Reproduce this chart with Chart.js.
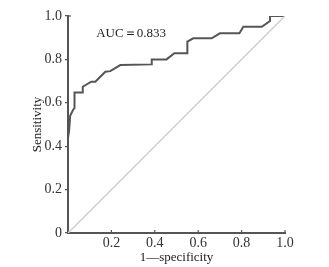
<!DOCTYPE html>
<html>
<head>
<meta charset="utf-8">
<script src="https://cdn.jsdelivr.net/npm/chart.js@4.4.0/dist/chart.umd.min.js"></script>
<style>
  html, body { margin: 0; padding: 0; background: #fff; }
</style>
</head>
<body>
<canvas id="roc" width="329" height="267"></canvas>
<script>
// ROC curve (1-specificity vs sensitivity)
var fpr = [0, 0, 0.005, 0.01, 0.023, 0.03, 0.03, 0.068, 0.068, 0.107, 0.126, 0.172, 0.195, 0.241, 0.386, 0.386, 0.454, 0.49, 0.55, 0.55, 0.577, 0.662, 0.70, 0.79, 0.808, 0.893, 0.931, 0.931, 1.0];
var tpr = [0, 0.44, 0.47, 0.54, 0.567, 0.575, 0.648, 0.648, 0.674, 0.697, 0.697, 0.743, 0.746, 0.774, 0.777, 0.80, 0.80, 0.828, 0.828, 0.882, 0.897, 0.897, 0.92, 0.92, 0.95, 0.95, 0.977, 1.0, 1.0];
var refX = [0, 1];
var refY = [0, 1];
var tickValues = [0, 0.2, 0.4, 0.6, 0.8, 1.0];
var aucText = 'AUC\uFF1D0.833';
var xTitle = '1\u2014specificity';
var yTitle = 'Sensitivity';

var rocPoints = [];
for (var i = 0; i < fpr.length; i++) {
    rocPoints.push({x: fpr[i], y: tpr[i]});
}
var refPoints = [];
for (var i = 0; i < refX.length; i++) {
    refPoints.push({x: refX[i], y: refY[i]});
}

var axisColor = '#555';
var serif = "'Liberation Serif', 'Times New Roman', serif";

// small inward ticks on the x axis and the AUC note
const extras = {
    id: 'extras',
    afterDraw(chart) {
        var ctx = chart.ctx;
        var xs = chart.scales.x;
        var ys = chart.scales.y;
        ctx.save();
        ctx.strokeStyle = axisColor;
        ctx.lineWidth = 1.2;
        for (var i = 1; i < tickValues.length; i++) {
            var px = xs.getPixelForValue(tickValues[i]);
            ctx.beginPath();
            ctx.moveTo(px, ys.bottom);
            ctx.lineTo(px, ys.bottom - 3);
            ctx.stroke();
        }
        var topY = ys.getPixelForValue(1);
        ctx.beginPath();
        ctx.moveTo(xs.left, topY);
        ctx.lineTo(xs.left + 3, topY);
        ctx.stroke();

        ctx.fillStyle = '#222';
        ctx.font = '13px ' + serif;
        ctx.textBaseline = 'middle';
        ctx.textAlign = 'left';
        ctx.fillText(aucText, xs.getPixelForValue(0.13), ys.getPixelForValue(0.92));
        ctx.restore();
    }
};

const configRoc = {
    type: 'scatter',
    data: {
        datasets: [{
            data: refPoints,
            showLine: true,
            borderColor: '#cfcfcf',
            borderWidth: 1.5,
            pointRadius: 0,
            tension: 0
        }, {
            data: rocPoints,
            showLine: true,
            borderColor: '#555',
            borderWidth: 2,
            pointRadius: 0,
            tension: 0
        }]
    },
    options: {
        responsive: false,
        animation: false,
        layout: {
            padding: {top: 16, right: 44, left: 0, bottom: 0}
        },
        plugins: {
            legend: {display: false},
            tooltip: {enabled: false}
        },
        scales: {
            x: {
                type: 'linear',
                min: 0,
                max: 1,
                afterFit: function (scale) { scale.height = 34; },
                afterBuildTicks: function (scale) {
                    scale.ticks = tickValues.map(function (v) { return {value: v}; });
                },
                border: {color: axisColor, width: 2},
                grid: {display: false, drawTicks: false},
                ticks: {
                    padding: 2,
                    color: '#333',
                    font: {family: serif, size: 14},
                    maxRotation: 0,
                    callback: function (v) { return v === 0 ? '' : v.toFixed(1); }
                },
                title: {
                    display: true,
                    text: xTitle,
                    color: '#222',
                    font: {family: serif, size: 13},
                    padding: {top: 0, bottom: 2}
                }
            },
            y: {
                type: 'linear',
                min: 0,
                max: 1,
                afterFit: function (scale) { scale.width = 68; },
                afterBuildTicks: function (scale) {
                    scale.ticks = tickValues.map(function (v) { return {value: v}; });
                },
                border: {color: axisColor, width: 2},
                grid: {
                    drawOnChartArea: false,
                    drawTicks: true,
                    tickLength: 3,
                    color: axisColor,
                    lineWidth: 1.2
                },
                ticks: {
                    padding: 3,
                    color: '#333',
                    font: {family: serif, size: 14},
                    callback: function (v) { return v === 0 ? '0' : v.toFixed(1); }
                },
                title: {
                    display: true,
                    text: yTitle,
                    color: '#222',
                    font: {family: serif, size: 13},
                    padding: {top: 30, bottom: 0}
                }
            }
        }
    },
    plugins: [extras]
};

const myChartRoc = new Chart(
    document.getElementById('roc'),
    configRoc
);
</script>
</body>
</html>
